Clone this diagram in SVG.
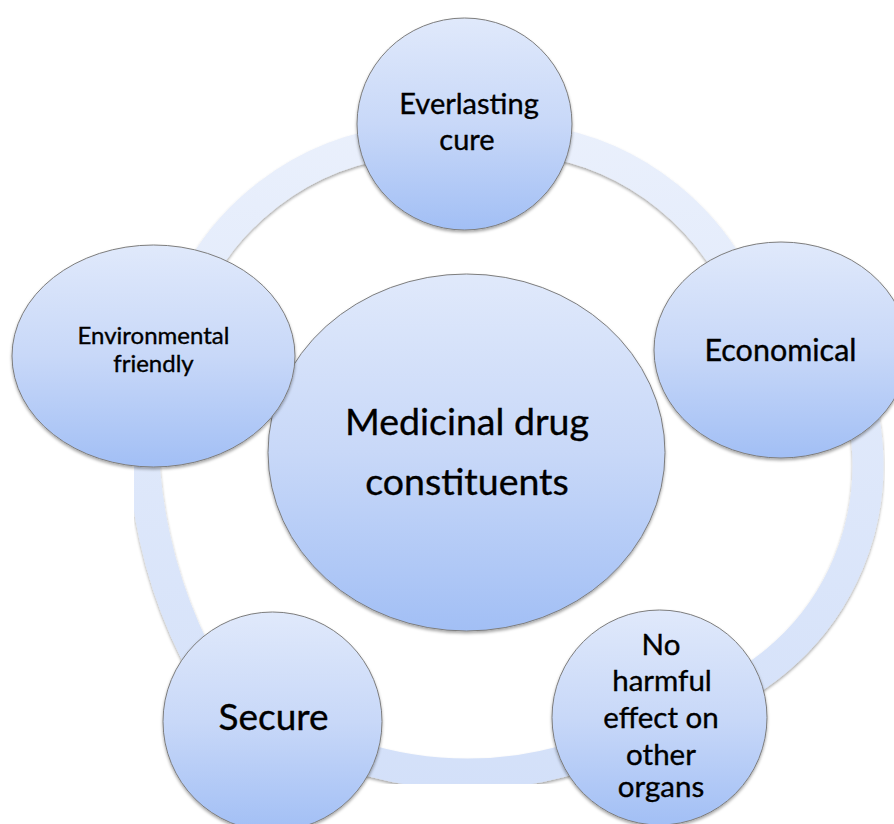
<svg xmlns="http://www.w3.org/2000/svg" width="894" height="824" viewBox="0 0 894 824">
  <defs>
    <linearGradient id="nodeFill" x1="0" y1="0" x2="0" y2="1">
      <stop offset="0" stop-color="#e0e9fb"/>
      <stop offset="0.5" stop-color="#c8d8f8"/>
      <stop offset="1" stop-color="#a2bff5"/>
    </linearGradient>
    <linearGradient id="ringFill" gradientUnits="userSpaceOnUse" x1="0" y1="120" x2="0" y2="790">
      <stop offset="0" stop-color="#eaf0fc"/>
      <stop offset="1" stop-color="#d3e0f9"/>
    </linearGradient>
    <filter id="shadow" x="-10%" y="-10%" width="120%" height="125%">
      <feDropShadow dx="0" dy="2" stdDeviation="1.6" flood-color="#000" flood-opacity="0.35"/>
    </filter>
  </defs>
  <style>
    .node { fill: url(#nodeFill); stroke: #7d7d7d; stroke-width: 1; filter: url(#shadow); }
    .ring { fill: none; stroke: url(#ringFill); stroke-width: 31; filter: url(#shadow); }
    .label { font-family: Lato, "Liberation Sans", sans-serif; fill: #000; stroke: #000; stroke-width: 0.35; text-anchor: middle; }
  </style>
  <rect width="894" height="824" fill="#fff"/>

  <!-- cycle arcs between neighbouring outer nodes; ends are tucked under the nodes -->
  <g id="connectors">
    <path class="ring" d="M181.8,312.4 A262,262 0 0 1 405.2,141"/>
    <path class="ring" d="M538.7,140.6 A264,264 0 0 1 750.1,311.7"/>
    <path class="ring" d="M844.1,357.2 A255,255 0 0 1 700.2,704.6"/>
    <path class="ring" d="M675.4,708.5 A362.5,362.5 0 0 1 259.6,708.5"/>
    <path class="ring" d="M232.9,715.1 A497,497 0 0 1 150.6,343.7"/>
  </g>

  <!-- hub -->
  <g id="hub">
    <ellipse class="node" cx="466.5" cy="452.5" rx="198.5" ry="178.5"/>
    <text class="label" font-size="37.5" x="467" y="435">Medicinal drug</text>
    <text class="label" font-size="37.5" x="467" y="495">constituents</text>
  </g>

  <g id="everlasting-cure">
    <ellipse class="node" cx="464.5" cy="124" rx="107.5" ry="106"/>
    <text class="label" font-size="29" x="469" y="114">Everlasting</text>
    <text class="label" font-size="29" x="467" y="150">cure</text>
  </g>

  <g id="economical">
    <ellipse class="node" cx="781" cy="350" rx="127" ry="108"/>
    <text class="label" font-size="30.5" x="780.5" y="361">Economical</text>
  </g>

  <g id="no-harmful-effect">
    <ellipse class="node" cx="659.5" cy="717.5" rx="107.5" ry="107.5"/>
    <text class="label" font-size="29.5" x="661" y="655">No</text>
    <text class="label" font-size="29.5" x="662" y="691">harmful</text>
    <text class="label" font-size="29.5" x="661" y="728">effect on</text>
    <text class="label" font-size="29.5" x="661" y="765">other</text>
    <text class="label" font-size="29.5" x="661" y="797">organs</text>
  </g>

  <g id="secure">
    <ellipse class="node" cx="272.5" cy="721.5" rx="109.5" ry="109.5"/>
    <text class="label" font-size="37" x="273.5" y="730">Secure</text>
  </g>

  <g id="environmental-friendly">
    <ellipse class="node" cx="153.5" cy="356" rx="141.5" ry="111"/>
    <text class="label" font-size="24" x="153.5" y="344">Environmental</text>
    <text class="label" font-size="24" x="153.5" y="372">friendly</text>
  </g>
</svg>
